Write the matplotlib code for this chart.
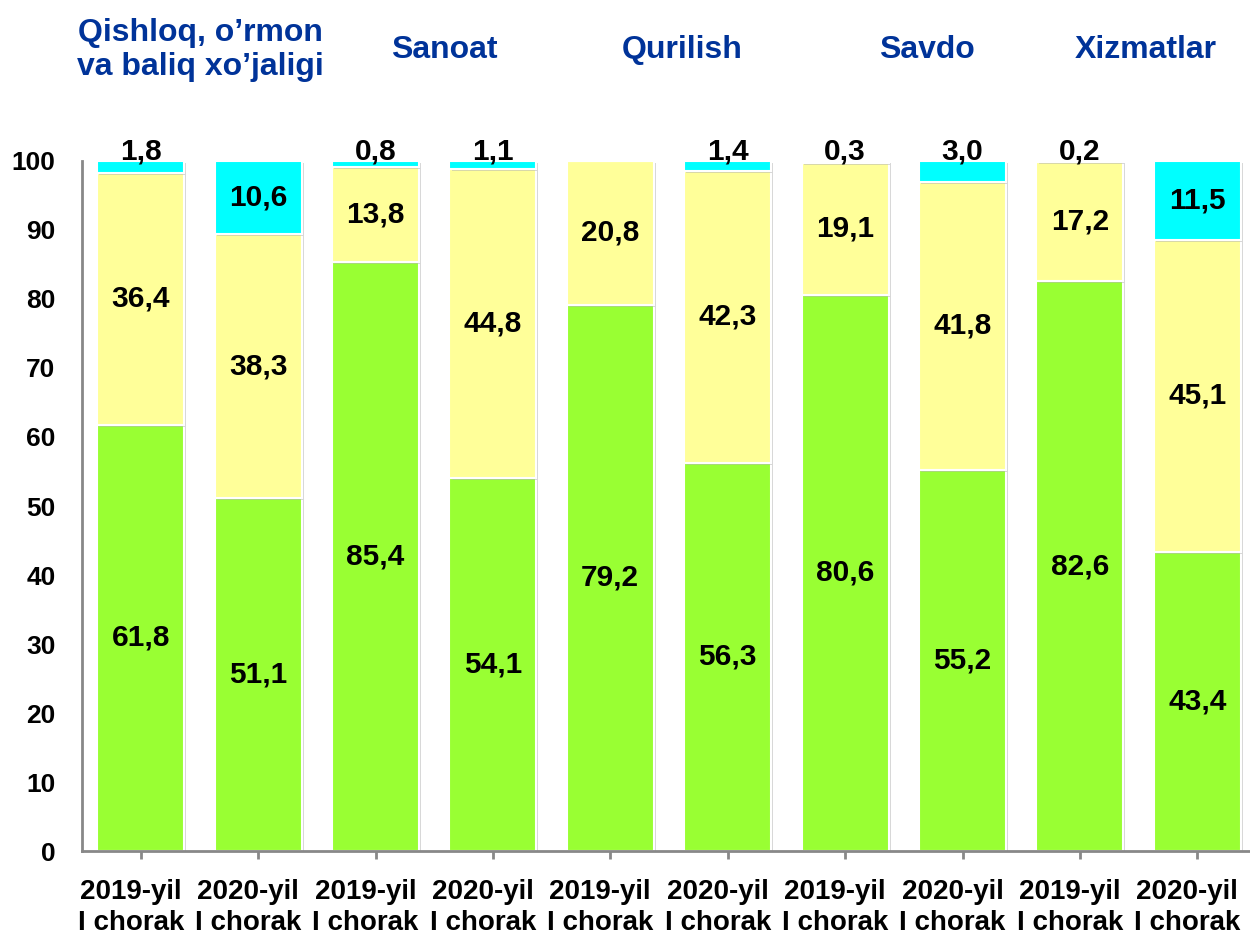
import matplotlib.pyplot as plt
import matplotlib.patheffects as pe
import matplotlib.transforms as mtransforms
import numpy as np

plt.rcParams['font.family'] = ['Liberation Sans', 'DejaVu Sans']
plt.rcParams['font.weight'] = 'bold'

sectors = ["Qishloq, o\u2019rmon\nva baliq xo\u2019jaligi", "Sanoat", "Qurilish", "Savdo", "Xizmatlar"]
periods = ["2019-yil\nI chorak", "2020-yil\nI chorak"] * 5

green = [61.8, 51.1, 85.4, 54.1, 79.2, 56.3, 80.6, 55.2, 82.6, 43.4]
yellow = [36.4, 38.3, 13.8, 44.8, 20.8, 42.3, 19.1, 41.8, 17.2, 45.1]
cyan = [1.8, 10.6, 0.8, 1.1, 0.0, 1.4, 0.3, 3.0, 0.2, 11.5]

fig = plt.figure(figsize=(12.5, 9.36), dpi=100)
ax = fig.add_axes([0.0656, 0.0908, 0.9392, 0.7372])

x = np.arange(len(periods))
w = 0.74
shadow = [pe.SimplePatchShadow(offset=(1.5, -1.5), shadow_rgbFace='#b0b0b0', alpha=0.5), pe.Normal()]

g = np.array(green)
yv = np.array(yellow)
c = np.array(cyan)

b1 = ax.bar(x, g, w, color='#99FF33', edgecolor='white', linewidth=1.5)
b2 = ax.bar(x, yv, w, bottom=g, color='#FFFF99', edgecolor='white', linewidth=1.5)
b3 = ax.bar(x, c, w, bottom=g + yv, color='#00FFFF', edgecolor='white', linewidth=1.5)
for bars in (b1, b2, b3):
    for p in bars:
        p.set_path_effects(shadow)

def fmt(v):
    return f"{v:.1f}".replace('.', ',')

fs = 21.5
for i in range(len(x)):
    ax.text(x[i], g[i] / 2, fmt(g[i]), ha='center', va='center', fontsize=fs, fontweight='bold')
    ax.text(x[i], g[i] + yv[i] / 2, fmt(yv[i]), ha='center', va='center', fontsize=fs, fontweight='bold')
    if c[i] > 5:
        ax.text(x[i], g[i] + yv[i] + c[i] / 2, fmt(c[i]), ha='center', va='center', fontsize=fs, fontweight='bold')
    elif c[i] > 0:
        ax.text(x[i], 100.2, fmt(c[i]), ha='center', va='baseline', fontsize=fs, fontweight='bold')

ax.set_xlim(-0.5, len(x) - 0.5)
ax.set_ylim(0, 100)
ax.set_yticks(range(0, 101, 10))
ax.set_xticks(x)
ax.set_xticklabels(periods, fontsize=20, fontweight='bold', linespacing=1.25)
ax.tick_params(axis='y', length=0, pad=19, labelsize=19)
ax.tick_params(axis='x', length=6, width=2, color='#888888', pad=14)
for lbl in ax.get_yticklabels():
    lbl.set_fontweight('bold')

# x labels sit a little left of their ticks in the original
shift = mtransforms.ScaledTranslation(-10 / 100, 0, fig.dpi_scale_trans)
for lbl in ax.get_xticklabels():
    lbl.set_transform(lbl.get_transform() + shift)

for s in ['top', 'right']:
    ax.spines[s].set_visible(False)
for s in ['left', 'bottom']:
    ax.spines[s].set_color('#888888')
    ax.spines[s].set_linewidth(2)

head_x = [200, 444, 682, 927, 1146]
for name, hx in zip(sectors, head_x):
    fig.text(hx / 1250, 1 - 50 / 936, name, ha='center', va='center', fontsize=23,
             fontweight='bold', color='#003399', linespacing=1.2)

plt.savefig('out.png', dpi=100)
